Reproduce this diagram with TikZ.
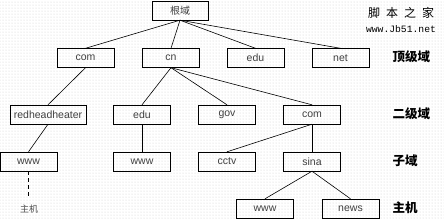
\documentclass[tikz,border=0pt]{standalone}
\usepackage{fontspec}
\setmainfont{Liberation Sans}
\setmonofont{Liberation Mono}
\newfontfamily\cjk{Noto Sans CJK SC}
\usetikzlibrary{positioning,patterns}

\tikzset{
  dom/.style={draw,minimum width=57pt,minimum height=19pt,inner sep=0pt,font=\fontsize{10.5}{11}\selectfont,text=black!75},
  lvl/.style={anchor=west,font=\cjk\bfseries\fontsize{12.5}{12.5}\selectfont},
  link/.style={line width=0.6pt}
}

\begin{document}
\begin{tikzpicture}[x=1pt,y=-1pt]
\useasboundingbox (0,0) rectangle (444,218);
\fill[white] (0,0) rectangle (444,218);
\fill[pattern=dots,pattern color=black!20] (0,0) rectangle (444,218);
% root and top level
\node[dom,minimum width=56pt,font=\cjk\fontsize{10}{10}\selectfont](root) at (180,10.5){根域};
\foreach \x/\n/\t in {85.5/com/com,171/cn/cn,255.5/edu/edu,340.5/net/net}
 {\node[dom](\n) at (\x,58){\t};\draw[link](root.south)--(\n.north);}
% second level
\node[dom,minimum width=76pt](rhh) at (48,114.5){redheadheater};
\node[dom](cnedu) at (142,114.5){edu};
\node[dom](gov) at (227,114.5){gov};
\node[dom](cncom) at (312,114.5){com};
\draw[link](com.south)--(rhh.north);
\foreach \n in {cnedu,gov,cncom} \draw[link](cn.south)--(\n.north);
% subdomains
\node[dom](www1) at (28.5,161.5){www};
\node[dom](www2) at (142,161.5){www};
\node[dom](cctv) at (227,161.5){cctv};
\node[dom](sina) at (312,161.5){sina};
\draw[link](rhh.south)--(www1.north);
\draw[link](cnedu.south)--(www2.north);
\draw[link](cncom.south)--(cctv.north);
\draw[link](cncom.south)--(sina.north);
% hosts
\node[dom](www3) at (265,208.5){www};
\node[dom](news) at (350.5,208.5){news};
\draw[link](sina.south)--(www3.north);
\draw[link](sina.south)--(news.north);
\coordinate(hostend) at (28.5,196);
\draw[link,dashed,dash pattern=on 4pt off 3pt](www1.south)--(hostend);
\node[font=\cjk\fontsize{9}{9}\selectfont,text=black!70](host) at (29,209){主机};
% level labels
\node[lvl](l1) at (389,57){顶级域};
\node[lvl](l2) at (389,113.5){二级域};
\node[lvl](l3) at (389,161){子域};
\node[lvl](l4) at (389,208){主机};
% watermark
\node[font=\cjk\fontsize{12}{12}\selectfont](wm) at (401,13){脚\hspace{6pt}本\hspace{6pt}之\hspace{6pt}家};
\node[font=\ttfamily\fontsize{9.7}{10}\selectfont,below=0pt of wm](url){www.Jb51.net};
\end{tikzpicture}
\end{document}
